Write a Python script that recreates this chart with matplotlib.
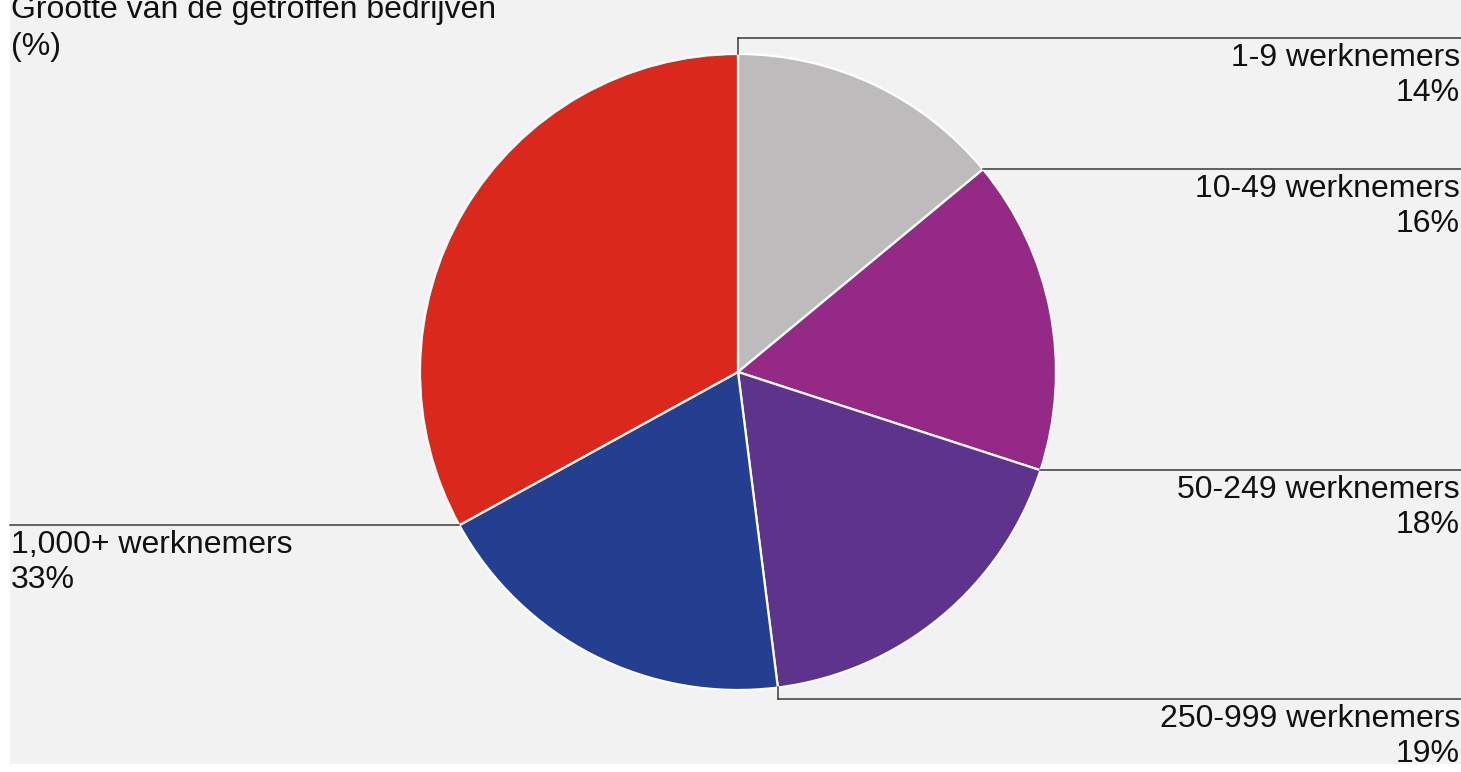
import matplotlib
matplotlib.use("Agg")
import matplotlib.pyplot as plt
from matplotlib.patches import Rectangle
import numpy as np

plt.rcParams['font.family'] = ['Liberation Sans', 'DejaVu Sans']

# ---- data ----
categories = ["1-9 werknemers", "10-49 werknemers", "50-249 werknemers",
              "250-999 werknemers", "1,000+ werknemers"]
values = [14, 16, 18, 19, 33]
colors = ["#bdbbbb", "#952a86", "#5e338b", "#243f8f", "#da291c"]
title = "Grootte van de getroffen bedrijven"
subtitle = "(%)"

W, H = 1461, 772
fig = plt.figure(figsize=(W / 100, H / 100), dpi=100, facecolor="white")
ax = fig.add_axes([0, 0, 1, 1])

def py(y):  # pixel-from-top -> data y
    return H - y

bg = Rectangle((10, py(764)), W - 10, 764, facecolor="#f2f2f2",
               edgecolor="none", zorder=0)
ax.add_patch(bg)

cx, cy, R = 738, py(372), 318
wedges, _ = ax.pie(values, colors=colors, startangle=90, counterclock=False,
                   center=(cx, cy), radius=R,
                   wedgeprops=dict(edgecolor="white", linewidth=1.6))
for w in wedges:
    w.set_zorder(2)

ax.set_xlim(0, W)
ax.set_ylim(0, H)
ax.set_aspect('auto')
ax.axis('off')

fs = 23
txtc = "#111111"
linec = "#3a3a3a"

# start boundary of each wedge (clockwise from top)
cum = np.concatenate([[0], np.cumsum(values)[:-1]]) / sum(values)
angles = np.deg2rad(90 - 360 * cum)
bx = cx + R * np.cos(angles)
by = cy + R * np.sin(angles)

# layout: horizontal leader y (pixels from top) for each label, None = at boundary
leader_y = [38, None, None, 699, None]
side = ["right", "right", "right", "right", "left"]

for i, cat in enumerate(categories):
    ly = py(leader_y[i]) if leader_y[i] is not None else by[i]
    if leader_y[i] is not None:
        ax.plot([bx[i], bx[i]], [by[i], ly], color=linec, lw=1.1, zorder=3)
    if side[i] == "right":
        ax.plot([bx[i], W], [ly, ly], color=linec, lw=1.1, zorder=3)
        tx, ha = W - 1, "right"
    else:
        ax.plot([10, bx[i]], [ly, ly], color=linec, lw=1.1, zorder=3)
        tx, ha = 11, "left"
    t1 = ax.text(tx, ly - 28, cat, ha=ha, va="baseline", fontsize=fs,
                 color=txtc, zorder=4)
    t2 = ax.text(tx, ly - 63, f"{values[i]}%", ha=ha, va="baseline",
                 fontsize=fs, color=txtc, zorder=4)
    t1.set_clip_path(bg)
    t2.set_clip_path(bg)

ax.text(11, py(18), title, ha="left", va="baseline", fontsize=fs, color=txtc)
ax.text(11, py(55), subtitle, ha="left", va="baseline", fontsize=fs, color=txtc)

fig.savefig("out.png", dpi=100, facecolor="white")
